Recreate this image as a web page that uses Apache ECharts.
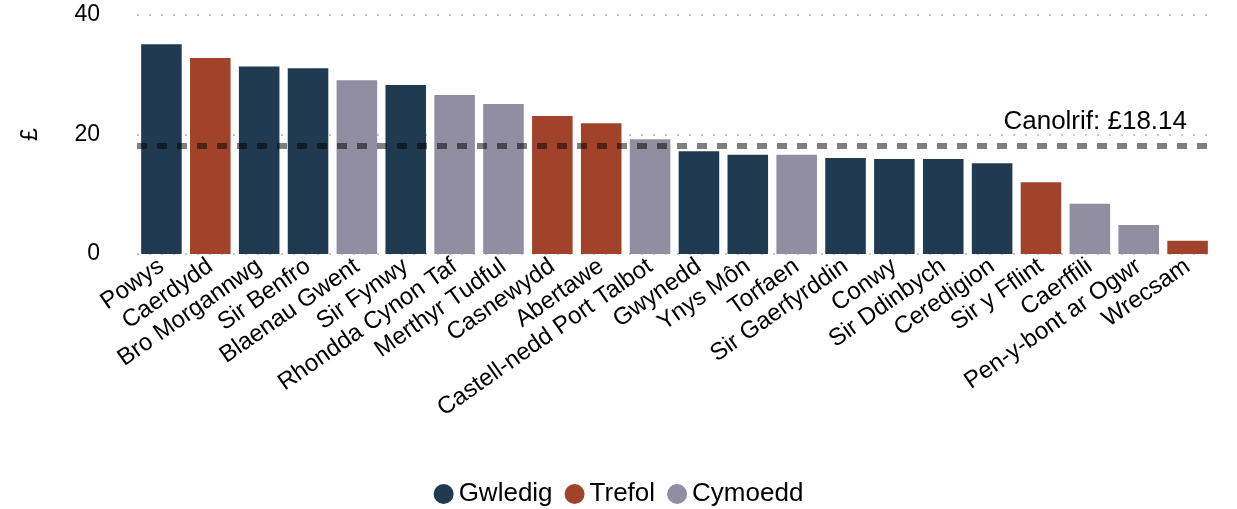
<!DOCTYPE html>
<html>
<head>
<meta charset="utf-8">
<script src="https://cdn.jsdelivr.net/npm/echarts@6/dist/echarts.min.js"></script>
<style>
    html, body {margin: 0; padding: 0; background: #fff;}
    #main {width: 1237px; height: 509px;}
</style>
</head>
<body>
<div id="main"></div>
<script>
//categories
var areas = ['Powys', 'Caerdydd', 'Bro Morgannwg', 'Sir Benfro', 'Blaenau Gwent', 'Sir Fynwy',
    'Rhondda Cynon Taf', 'Merthyr Tudful', 'Casnewydd', 'Abertawe', 'Castell-nedd Port Talbot',
    'Gwynedd', 'Ynys Môn', 'Torfaen', 'Sir Gaerfyrddin', 'Conwy', 'Sir Ddinbych', 'Ceredigion',
    'Sir y Fflint', 'Caerffili', 'Pen-y-bont ar Ogwr', 'Wrecsam'];
//values (£)
var values = [35.1, 32.8, 31.4, 31.1, 29.1, 28.3, 26.6, 25.1, 23.1, 21.9, 19.2,
    17.2, 16.6, 16.6, 16.05, 15.9, 15.9, 15.2, 12.0, 8.4, 4.85, 2.2];
//group of each area: 0 Gwledig, 1 Trefol, 2 Cymoedd
var groups = [0, 1, 0, 0, 2, 0, 2, 2, 1, 1, 2, 0, 0, 2, 0, 0, 0, 0, 1, 2, 2, 1];
var groupNames = ['Gwledig', 'Trefol', 'Cymoedd'];
var groupColors = ['#1f3a51', '#a1432a', '#918ea2'];
var yTicks = [0, 20, 40];
var median = 18.14;

var chart = echarts.init(document.getElementById('main'));

//one series per group, '-' where the area is in another group
var series = [];
for (var g = 0; g < groupNames.length; g++) {
    var data = [];
    for (var i = 0; i < values.length; i++) {
        data.push(groups[i] == g ? values[i] : '-');
    }
    series.push({
        name: groupNames[g],
        type: 'bar',
        stack: 'all',
        barCategoryGap: '17%',
        itemStyle: {color: groupColors[g]},
        data: data
    });
}

//median line
series[0].markLine = {
    symbol: 'none',
    silent: true,
    z: 10,
    lineStyle: {color: 'rgba(0,0,0,0.5)', type: [10, 10], width: 6},
    label: {
        show: true,
        position: 'insideEndTop',
        formatter: 'Canolrif: £' + median.toFixed(2),
        color: '#000',
        fontSize: 26,
        fontFamily: 'Liberation Sans',
        distance: [25, 11]
    },
    data: [{yAxis: median}]
};

var option = {
    animation: false,
    textStyle: {fontFamily: 'Liberation Sans'},
    grid: {left: 137, right: 25, top: 15, bottom: 255},
    legend: {
        bottom: -3,
        left: 'center',
        icon: 'circle',
        itemWidth: 20,
        itemHeight: 20,
        itemGap: 12,
        textStyle: {fontSize: 26, color: '#000'},
        data: groupNames
    },
    xAxis: {
        type: 'category',
        data: areas,
        axisLine: {show: false},
        axisTick: {show: false},
        axisLabel: {
            rotate: 35,
            interval: 0,
            fontSize: 24,
            color: '#000',
            margin: 10
        }
    },
    yAxis: {
        type: 'value',
        min: yTicks[0],
        max: yTicks[yTicks.length - 1],
        interval: 20,
        name: '£',
        nameLocation: 'middle',
        nameGap: 95,
        nameRotate: 90,
        nameTextStyle: {fontSize: 23, color: '#000'},
        axisLabel: {fontSize: 23, color: '#000', margin: 37},
        splitLine: {lineStyle: {color: '#c8c8c8', type: [2, 10], width: 2}}
    },
    series: series
};

if (option && typeof option === "object") {
    chart.setOption(option, true)
};
</script>
</body>
</html>
